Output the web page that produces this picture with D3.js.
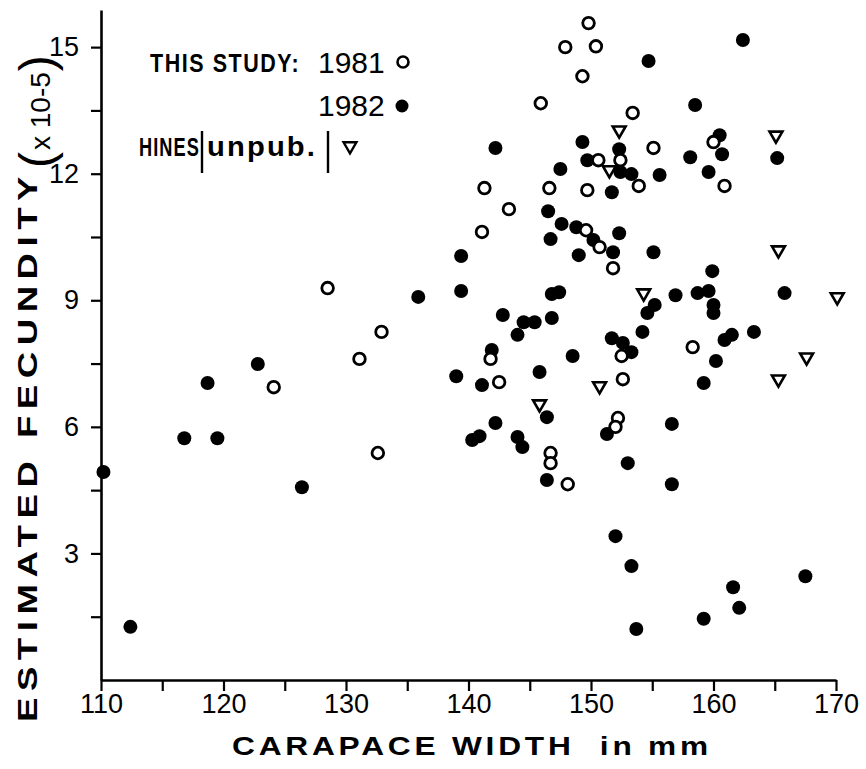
<!DOCTYPE html>
<html><head><meta charset="utf-8">
<script src="https://cdn.jsdelivr.net/npm/d3@7"></script>
<style>body{margin:0;background:#fff}svg{display:block}</style>
</head><body><svg id="c" width="866" height="769"></svg>
<script>
// ---- data ----
const xTicks = [110,115,120,125,130,135,140,145,150,155,160,165,170];
const xLabels = [110,120,130,140,150,160,170];
const yTicks = [1.5,3,4.5,6,7.5,9,10.5,12,13.5,15];
const yLabels = [3,6,9,12,15];

const cw1982 = [110.2,112.4,116.8,118.7,119.5,122.8,126.4,135.9,139.4,139.4,139.0,140.3,140.9,141.1,142.2,141.9,142.2,142.8,144.0,144.5,145.4,144.0,144.4,145.8,146.5,146.4,146.4,146.7,146.8,147.4,146.8,147.5,147.6,148.5,148.8,149.0,149.3,149.7,150.2,151.7,151.8,152.3,152.3,152.4,153.3,154.7,155.6,155.1,151.7,152.6,153.3,151.3,153.0,152.0,153.3,153.7,154.2,154.6,155.2,156.9,156.6,156.6,158.1,158.5,158.7,159.6,160.0,160.0,159.9,159.6,159.2,160.2,160.5,160.7,160.9,161.5,163.3,162.4,165.2,165.8,159.2,161.6,162.1,167.5];
const fe1982 = [4.93,1.26,5.73,7.04,5.73,7.49,4.57,9.08,10.05,9.22,7.20,5.69,5.78,6.99,12.61,7.82,6.09,8.65,8.18,8.48,8.48,5.76,5.52,7.30,11.11,6.23,4.74,10.45,9.15,9.19,8.58,12.11,10.81,7.68,10.73,10.07,12.75,12.32,10.43,11.56,10.14,10.59,12.58,12.04,11.99,14.67,11.97,10.14,8.10,7.99,7.77,5.83,5.14,3.41,2.70,1.21,8.25,8.70,8.89,9.12,6.07,4.64,12.39,13.63,9.17,9.22,8.89,8.70,9.69,12.04,7.04,7.56,12.91,12.46,8.06,8.18,8.25,15.17,12.37,9.17,1.45,2.20,1.71,2.46];

const cw1981 = [124.1,128.5,131.1,132.9,132.6,141.1,141.3,143.3,141.8,142.5,145.9,146.6,146.7,146.7,148.1,147.9,150.4,149.8,149.3,149.7,149.6,150.7,150.6,152.4,151.8,153.4,153.9,155.1,152.5,152.6,152.2,152.0,158.3,160.0,160.9];
const fe1981 = [6.94,9.29,7.61,8.25,5.38,10.62,11.66,11.16,7.61,7.06,13.67,11.66,5.38,5.14,4.64,15.0,15.02,15.57,14.31,11.61,10.66,10.26,12.32,12.32,9.76,13.44,11.71,12.61,7.68,7.13,6.21,6.00,7.89,12.75,11.71];

const cwHines = [152.3,151.5,165.1,165.3,154.3,170.1,150.7,145.8,165.3,167.6];
const feHines = [13.03,12.09,12.91,10.19,9.17,9.08,6.97,6.54,7.13,7.65];

// ---- chart ----
const svg = d3.select("#c");
const x = d3.scaleLinear().domain([110,170]).range([101,836]);
const y = d3.scaleLinear().domain([0,15.88]).range([680,10]);
const numFont = "'Liberation Sans', Arial, sans-serif";
const boldFont = "'Liberation Sans', Arial, sans-serif";

const gy = svg.append("g").attr("transform","translate(101,0)")
  .call(d3.axisLeft(y).tickValues(yTicks).tickSize(10).tickSizeOuter(0).tickPadding(12)
    .tickFormat(d => yLabels.includes(d) ? d : ""));
const gx = svg.append("g").attr("transform","translate(0,680)")
  .call(d3.axisBottom(x).tickValues(xTicks).tickSize(11).tickSizeOuter(0).tickPadding(3)
    .tickFormat(d => xLabels.includes(d) ? d : ""));
[gx, gy].forEach(g => {
  g.select(".domain").attr("stroke","#000").attr("stroke-width",2.6);
  g.selectAll(".tick line").attr("stroke","#000").attr("stroke-width",2.2);
  g.selectAll(".tick text").attr("fill","#000").style("font-family",numFont).style("font-size","27px");
});

// axis titles
svg.append("text").attr("transform","translate(37,722) rotate(-90)")
  .attr("textLength",552).attr("lengthAdjust","spacingAndGlyphs")
  .style("font-family",boldFont).style("font-weight","bold").style("font-size","28px").style("letter-spacing","5px")
  .text("ESTIMATED FECUNDITY");
const par = svg.append("text").attr("transform","translate(53,168) rotate(-90)")
  .style("font-family",numFont);
par.append("tspan").style("font-size","48px").text("(");
par.append("tspan").attr("dx",2).attr("dy",-3).style("font-size","28px").text("x 10-5");
par.append("tspan").attr("dx",1).attr("dy",3).style("font-size","48px").text(")");

svg.append("text").attr("x",232).attr("y",755)
  .attr("textLength",480).attr("lengthAdjust","spacingAndGlyphs")
  .style("font-family",boldFont).style("font-weight","bold").style("font-size","25px").style("letter-spacing","3px")
  .text("CARAPACE WIDTH\u00a0 in mm");

// marks
const tri = d3.symbol().type(d3.symbolTriangle).size(72);
svg.append("g").selectAll("circle").data(d3.range(cw1982.length)).join("circle")
  .attr("cx", i => x(cw1982[i])).attr("cy", i => y(fe1982[i])).attr("r",7).attr("fill","#000");
svg.append("g").selectAll("circle").data(d3.range(cw1981.length)).join("circle")
  .attr("cx", i => x(cw1981[i])).attr("cy", i => y(fe1981[i])).attr("r",5.8)
  .attr("fill","#fff").attr("stroke","#000").attr("stroke-width",2.8);
svg.append("g").selectAll("path").data(d3.range(cwHines.length)).join("path")
  .attr("d", tri).attr("transform", i => `translate(${x(cwHines[i])},${y(feHines[i])}) rotate(180)`)
  .attr("fill","#fff").attr("stroke","#000").attr("stroke-width",2.6);

// legend
const lg = svg.append("g");
lg.append("text").attr("transform","translate(150,72) scale(0.86,1)")
  .style("font-family",boldFont).style("font-weight","bold").style("font-size","25px").style("letter-spacing","1.8px").text("THIS STUDY:");
lg.append("text").attr("x",318).attr("y",73).style("font-family",numFont).style("font-size","30px").text("1981");
lg.append("circle").attr("cx",403).attr("cy",62).attr("r",5.5).attr("fill","#fff").attr("stroke","#000").attr("stroke-width",2.6);
lg.append("text").attr("x",318).attr("y",116).style("font-family",numFont).style("font-size","30px").text("1982");
lg.append("circle").attr("cx",402).attr("cy",106).attr("r",6.5).attr("fill","#000");
lg.append("text").attr("transform","translate(139,156) scale(0.7,1)")
  .style("font-family",boldFont).style("font-weight","bold").style("font-size","26px").style("letter-spacing","1.5px").text("HINES");
lg.append("line").attr("x1",202).attr("x2",202).attr("y1",131).attr("y2",173).attr("stroke","#000").attr("stroke-width",2.4);
lg.append("text").attr("transform","translate(207,156) scale(1.08,1)")
  .style("font-family",boldFont).style("font-weight","bold").style("font-size","27px").style("letter-spacing","2px").text("unpub.");
lg.append("line").attr("x1",328).attr("x2",328).attr("y1",131).attr("y2",173).attr("stroke","#000").attr("stroke-width",2.4);
lg.append("path").attr("d",tri).attr("transform","translate(350,146) rotate(180)")
  .attr("fill","#fff").attr("stroke","#000").attr("stroke-width",2.4);
</script></body></html>
